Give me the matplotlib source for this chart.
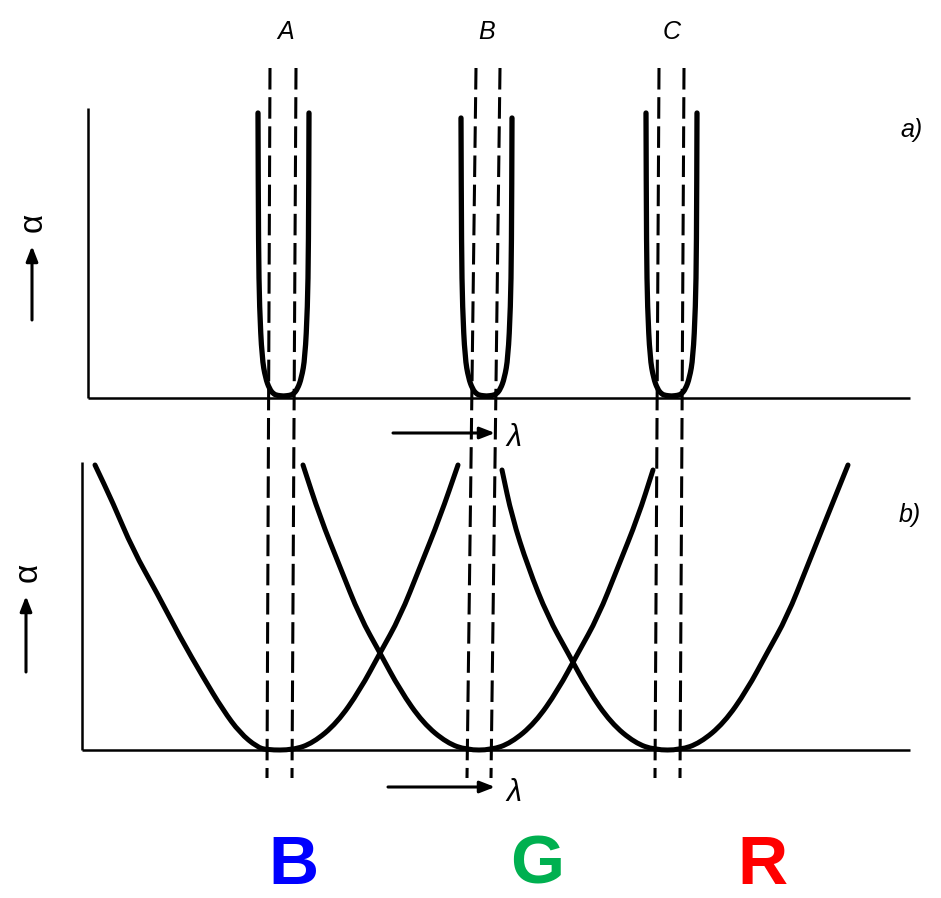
import matplotlib
matplotlib.use("Agg")
import matplotlib.pyplot as plt
from matplotlib.patches import FancyArrowPatch, PathPatch
from matplotlib.path import Path

plt.rcParams['lines.scale_dashes'] = False
plt.rcParams['font.family'] = ['Liberation Sans', 'DejaVu Sans']

W, H = 941, 898

# ---- panel a) : narrow absorption notches (x: wavelength units, y: alpha units)
notch_names = ["A", "B", "C"]
notch_centers = [195.5, 398.5, 583.5]
notch_tops = [285, 280, 285]
# half width of the notch read at a few heights (shared profile)
notch_halfwidth = [25.5, 25.0, 24.0, 21.5, 18.0, 14.0, 10.0, 6.0, 0.0]
notch_height = [None, 150, 90, 40, 20, 9, 4, 2.5, 2]

# ---- panel b) : broad absorption bands B, G, R  (points read off the figure)
band1_x = [13, 31, 51, 75, 98, 121, 141, 158, 175, 185, 211, 231, 255, 278, 298, 318, 338, 358, 376]
band1_y = [285, 247, 200, 157, 113, 73, 40, 17, 3, 0, 0, 7, 27, 60, 97, 133, 183, 233, 285]
band2_x = [221, 238, 258, 278, 298, 318, 341, 365, 385, 409, 429, 453, 476, 496, 516, 536, 556, 571]
band2_y = [285, 233, 183, 133, 97, 60, 27, 7, 0, 0, 7, 27, 60, 97, 133, 183, 233, 280]
band3_x = [420, 430, 446, 466, 486, 506, 529, 553, 573, 598, 618, 642, 665, 685, 705, 725, 745, 766]
band3_y = [280, 233, 183, 133, 97, 60, 27, 7, 0, 0, 7, 27, 60, 97, 133, 183, 233, 285]
band_labels = ["B", "G", "R"]
band_colors = ["#0000ff", "#00b050", "#ff0000"]

# edges of the notch bands, read at top (above panel a) and bottom (below panel b)
edge_top = [188, 214, 394, 418, 577, 602]
edge_bot = [185, 210, 385, 409, 573, 598]

fig = plt.figure(figsize=(W / 100, H / 100), dpi=100)
fig.patch.set_facecolor("white")


def frac(x0, y0, x1, y1):
    # pixel box (top-left origin) -> figure fraction rect
    return [x0 / W, 1 - y1 / H, (x1 - x0) / W, (y1 - y0) / H]


def smooth_curve(ax, xs, ys, lw):
    # quadratic bezier through midpoints, control at the read points
    pts = list(zip(xs, ys))
    verts = [pts[0]]
    codes = [Path.MOVETO]
    mid = lambda p, q: ((p[0] + q[0]) / 2, (p[1] + q[1]) / 2)
    verts.append(mid(pts[0], pts[1]))
    codes.append(Path.LINETO)
    for i in range(1, len(pts) - 1):
        verts += [pts[i], mid(pts[i], pts[i + 1])]
        codes += [Path.CURVE3, Path.CURVE3]
    verts.append(pts[-1])
    codes.append(Path.LINETO)
    patch = PathPatch(Path(verts, codes), fill=False, edgecolor="black", lw=lw,
                      capstyle="round", joinstyle="round", clip_on=False)
    ax.add_patch(patch)


ax_a = fig.add_axes(frac(88, 108, 910, 398))
ax_b = fig.add_axes(frac(82, 462, 910, 750))
ax_a.set_xlim(0, 822)
ax_a.set_ylim(0, 290)
ax_b.set_xlim(0, 828)
ax_b.set_ylim(0, 288)

for ax in (ax_a, ax_b):
    ax.set_facecolor("none")
    for s in ("top", "right"):
        ax.spines[s].set_visible(False)
    for s in ("left", "bottom"):
        ax.spines[s].set_linewidth(1.8)
        ax.spines[s].set_capstyle("butt")
    ax.set_xticks([])
    ax.set_yticks([])

# notches
for c, top in zip(notch_centers, notch_tops):
    hs = [top] + notch_height[1:]
    xs_l = [c - w for w in notch_halfwidth]
    xs_r = [c + w for w in reversed(notch_halfwidth)]
    smooth_curve(ax_a, xs_l + xs_r, hs + hs[::-1], 3.8)

# broad bands
for bx, by in [(band1_x, band1_y), (band2_x, band2_y), (band3_x, band3_y)]:
    smooth_curve(ax_b, bx, by, 3.6)

# dashed guide lines through both panels (in panel b coordinates)
y_top = 750 - 68
y_bot = 750 - 778
for xt, xb in zip(edge_top, edge_bot):
    ax_b.plot([xt, xb], [y_top, y_bot], color="black", lw=2.2,
              linestyle=(0, (15.5, 5.5)), clip_on=False)

# notch names
for name, x in zip(notch_names, [286, 487, 672]):
    fig.text(x / W, 1 - 32 / H, name, fontsize=18, style="italic",
             ha="center", va="center")

fig.text(912 / W, 1 - 130 / H, "a)", fontsize=18, style="italic", ha="center", va="center")
fig.text(910 / W, 1 - 515 / H, "b)", fontsize=18, style="italic", ha="center", va="center")


def arrow(p0, p1):
    a = FancyArrowPatch((p0[0], H - p0[1]), (p1[0], H - p1[1]),
                        transform=None, arrowstyle="-|>,head_length=9,head_width=3.5",
                        lw=2.2, color="black", shrinkA=0, shrinkB=0)
    fig.add_artist(a)


# alpha axis arrows
arrow((32, 320), (32, 246))
arrow((26, 672), (26, 596))
fig.text(33 / W, 1 - 222 / H, "α", fontsize=24, rotation=90, ha="center", va="center")
fig.text(28 / W, 1 - 572 / H, "α", fontsize=24, rotation=90, ha="center", va="center")

# lambda arrows
arrow((393, 433), (495, 433))
arrow((388, 787), (495, 787))
fig.text(514 / W, 1 - 438 / H, "λ", fontsize=22, style="italic", ha="center", va="center")
fig.text(514 / W, 1 - 793 / H, "λ", fontsize=22, style="italic", ha="center", va="center")

# colour band letters
for lab, col, x in zip(band_labels, band_colors, [293, 537, 762]):
    fig.text(x / W, 1 - 866 / H, lab, fontsize=50, fontweight="bold", color=col,
             ha="center", va="center")

fig.savefig("out.png", dpi=100, facecolor="white")
